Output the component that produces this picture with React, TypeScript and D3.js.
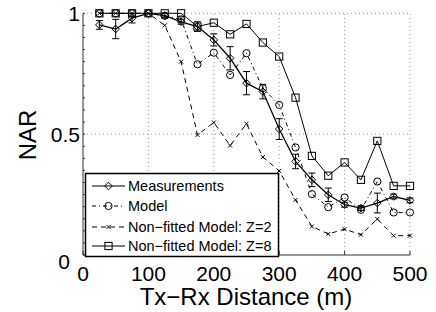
import React, { useEffect, useRef } from 'react';
import * as d3 from 'd3';

// distances in metres, one point every 25 m
const distances = [25, 50, 75, 100, 125, 150, 175, 200, 225, 250, 275, 300, 325, 350, 375, 400, 425, 450, 475, 500];
const measured = [0.952, 0.935, 0.98, 1.0, 0.99, 0.965, 0.945, 0.89, 0.814, 0.711, 0.676, 0.521, 0.387, 0.311, 0.249, 0.208, 0.194, 0.215, 0.242, 0.226];
const measuredErr = [0.018, 0.04, 0.02, 0.0, 0.01, 0.01, 0.02, 0.025, 0.048, 0.048, 0.03, 0.043, 0.03, 0.028, 0.028, 0.01, 0.01, 0.041, 0.01, 0.01];
const model = [1.0, 1.0, 1.0, 1.0, 0.99, 0.975, 0.789, 0.837, 0.745, 0.835, 0.69, 0.621, 0.445, 0.252, 0.198, 0.238, 0.187, 0.304, 0.176, 0.176];
const nonFittedZ2 = [1.0, 1.0, 1.0, 1.0, 0.95, 0.8, 0.497, 0.548, 0.453, 0.543, 0.405, 0.348, 0.228, 0.118, 0.087, 0.107, 0.084, 0.149, 0.08, 0.08];
const nonFittedZ8 = [1.0, 1.0, 1.0, 1.0, 1.0, 1.0, 0.945, 0.961, 0.913, 0.956, 0.879, 0.821, 0.651, 0.41, 0.328, 0.383, 0.311, 0.472, 0.286, 0.286];

const xTicks = [0, 100, 200, 300, 400, 500];
const yTicks = [0, 0.5, 1];
const yTickLabels = ['0', '0.5', '1'];
const legendLabels = ['Measurements', 'Model', 'Non\u2212fitted Model: Z=2', 'Non\u2212fitted Model: Z=8'];

const FONT = '"Liberation Sans", Arial, Helvetica, sans-serif';

const App = () => {
  const ref = useRef<SVGSVGElement>(null);

  useEffect(() => {
    const width = 436;
    const height = 312;
    const svg = d3.select(ref.current);
    svg.selectAll('*').remove();
    svg.attr('width', width).attr('height', height);

    const x = d3.scaleLinear().domain([0, 500]).range([83, 410]);
    const y = d3.scaleLinear().domain([0, 1]).range([255, 13.3]);

    // grid
    const grid = svg.append('g').attr('stroke', '#999').attr('stroke-dasharray', '1,3').attr('stroke-width', 1);
    xTicks.filter(t => t > 0).forEach(t => {
      grid.append('line').attr('x1', x(t)).attr('x2', x(t)).attr('y1', y(0)).attr('y2', y(1));
    });
    yTicks.filter(t => t > 0).forEach(t => {
      grid.append('line').attr('x1', x(0)).attr('x2', x(500)).attr('y1', y(t)).attr('y2', y(t));
    });

    const pts = (vals: number[]) => vals.map((v, i) => [distances[i], v] as [number, number]);
    const line = d3.line<[number, number]>().x(d => x(d[0])).y(d => y(d[1]));

    // Z=2 dashed with x markers
    svg.append('path').attr('d', line(pts(nonFittedZ2))).attr('fill', 'none')
      .attr('stroke', '#000').attr('stroke-width', 1).attr('stroke-dasharray', '5,4');
    const xMark = (g: any, cx: number, cy: number) => {
      const s = 2;
      g.append('path').attr('d', `M${cx - s},${cy - s}L${cx + s},${cy + s}M${cx - s},${cy + s}L${cx + s},${cy - s}`)
        .attr('stroke', '#000').attr('stroke-width', 1);
    };
    pts(nonFittedZ2).forEach(d => xMark(svg, x(d[0]), y(d[1])));

    // model dash-dot with circles
    svg.append('path').attr('d', line(pts(model))).attr('fill', 'none')
      .attr('stroke', '#000').attr('stroke-width', 1).attr('stroke-dasharray', '4,3,1,3');
    const circ = (g: any, cx: number, cy: number) => {
      g.append('circle').attr('cx', cx).attr('cy', cy).attr('r', 3.6)
        .attr('fill', 'none').attr('stroke', '#000').attr('stroke-width', 1);
    };
    pts(model).forEach(d => circ(svg, x(d[0]), y(d[1])));

    // Z=8 solid with squares
    svg.append('path').attr('d', line(pts(nonFittedZ8))).attr('fill', 'none')
      .attr('stroke', '#000').attr('stroke-width', 1);
    const sq = (g: any, cx: number, cy: number) => {
      g.append('rect').attr('x', cx - 3.6).attr('y', cy - 3.6).attr('width', 7.2).attr('height', 7.2)
        .attr('fill', 'none').attr('stroke', '#000').attr('stroke-width', 1);
    };
    pts(nonFittedZ8).forEach(d => sq(svg, x(d[0]), y(d[1])));

    // measurements with error bars and diamonds
    svg.append('path').attr('d', line(pts(measured))).attr('fill', 'none')
      .attr('stroke', '#000').attr('stroke-width', 1.3);
    measured.forEach((v, i) => {
      const cx = x(distances[i]);
      const e = measuredErr[i];
      if (e > 0) {
        const y1 = y(v + e), y2 = y(v - e);
        svg.append('path')
          .attr('d', `M${cx},${y1}L${cx},${y2}M${cx - 3.5},${y1}L${cx + 3.5},${y1}M${cx - 3.5},${y2}L${cx + 3.5},${y2}`)
          .attr('stroke', '#000').attr('stroke-width', 1).attr('fill', 'none');
      }
    });
    const diamond = (g: any, cx: number, cy: number) => {
      const s = 3.8;
      g.append('path').attr('d', `M${cx},${cy - s}L${cx + s},${cy}L${cx},${cy + s}L${cx - s},${cy}Z`)
        .attr('fill', 'none').attr('stroke', '#000').attr('stroke-width', 1);
    };
    pts(measured).forEach(d => diamond(svg, x(d[0]), y(d[1])));

    // axes
    const axis = svg.append('g').attr('stroke', '#333').attr('stroke-width', 1);
    axis.append('line').attr('x1', x(0)).attr('x2', x(0)).attr('y1', y(0)).attr('y2', y(1));
    axis.append('line').attr('x1', x(0)).attr('x2', x(500)).attr('y1', y(0)).attr('y2', y(0));
    xTicks.forEach(t => {
      axis.append('line').attr('x1', x(t)).attr('x2', x(t)).attr('y1', y(0)).attr('y2', y(0) - 4);
    });
    d3.range(0, 1.0001, 0.05).forEach(t => {
      axis.append('line').attr('x1', x(0)).attr('x2', x(0) + 2).attr('y1', y(t)).attr('y2', y(t));
    });

    // legend
    const lg = svg.append('g');
    lg.append('rect').attr('x', 85.5).attr('y', 173.5).attr('width', 193).attr('height', 83)
      .attr('fill', '#fff').attr('stroke', '#000').attr('stroke-width', 1.5);
    const rows = [186, 206, 227, 246];
    const styles = [null, '4,3,1,3', '5,4', null];
    const markers = [diamond, circ, xMark, sq];
    legendLabels.forEach((label, i) => {
      const ry = rows[i];
      const ln = lg.append('line').attr('x1', 92).attr('x2', 125).attr('y1', ry).attr('y2', ry)
        .attr('stroke', '#000').attr('stroke-width', 1);
      if (styles[i]) ln.attr('stroke-dasharray', styles[i]);
      markers[i](lg, 108.5, ry);
      lg.append('text').attr('x', 128).attr('y', ry + 5.3).attr('font-family', FONT)
        .attr('font-size', 14.5).attr('fill', '#000').text(label);
    });

    // tick labels
    xTicks.forEach(t => {
      svg.append('text').attr('x', x(t)).attr('y', 281).attr('text-anchor', 'middle')
        .attr('font-family', FONT).attr('font-size', 21).attr('fill', '#000').text(String(t));
    });
    yTicks.forEach((t, i) => {
      const yy = t === 0 ? 269 : y(t) + 7.5;
      svg.append('text').attr('x', t === 0 ? 70 : 80).attr('y', yy).attr('text-anchor', 'end')
        .attr('font-family', FONT).attr('font-size', 21).attr('fill', '#000').text(yTickLabels[i]);
    });

    // axis titles
    svg.append('text').attr('x', 246).attr('y', 305).attr('text-anchor', 'middle')
      .attr('font-family', FONT).attr('font-size', 24).attr('fill', '#000').text('Tx\u2212Rx Distance (m)');
    svg.append('text').attr('transform', 'translate(36,135) rotate(-90)').attr('text-anchor', 'middle')
      .attr('font-family', FONT).attr('font-size', 24).attr('fill', '#000').text('NAR');
  }, []);

  return <svg ref={ref} style={{ position: 'absolute', left: 0, top: 0 }} />;
};

export default App;
